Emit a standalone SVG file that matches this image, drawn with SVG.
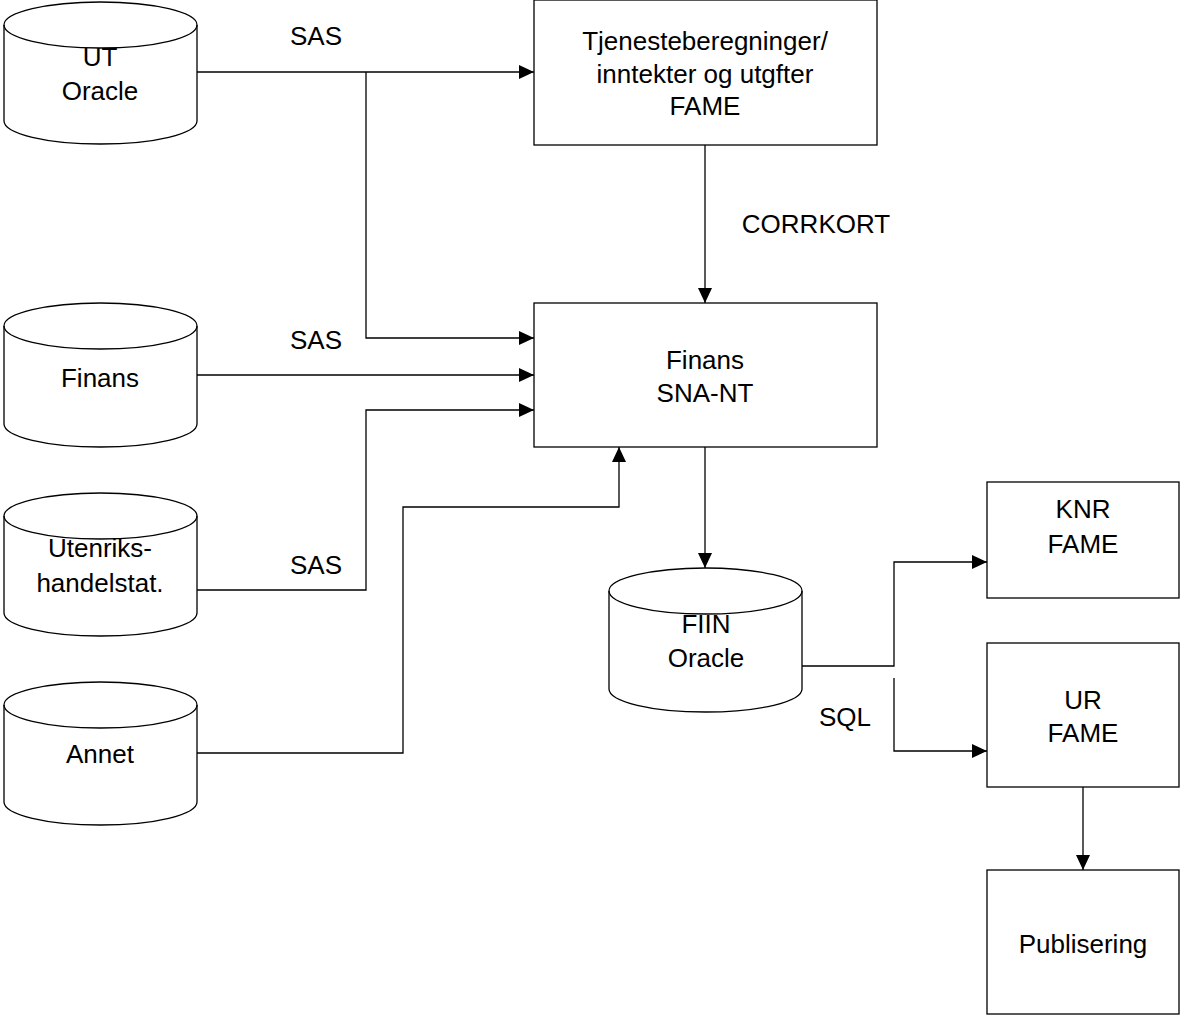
<svg xmlns="http://www.w3.org/2000/svg" width="1181" height="1015" viewBox="0 0 1181 1015">
<defs>
<marker id="arr" markerUnits="userSpaceOnUse" markerWidth="16" markerHeight="16" refX="15" refY="7" orient="auto">
<path d="M0,0 L15,7 L0,14 Z" fill="#000"/>
</marker>
<style>
.box{fill:#fff;stroke:#000;stroke-width:1.3}
.cyl{fill:#fff;stroke:#000;stroke-width:1.3}
.ln{fill:none;stroke:#000;stroke-width:1.3}
.t{font-family:"Liberation Sans",Arial,sans-serif;font-size:26px;fill:#000;text-anchor:middle}
</style>
</defs>
<rect width="1181" height="1015" fill="#fff"/>

<g id="connectors">
<path class="ln" d="M197,72 H534" marker-end="url(#arr)"/>
<path class="ln" d="M366,72 V338 H534" marker-end="url(#arr)"/>
<path class="ln" d="M197,375 H534" marker-end="url(#arr)"/>
<path class="ln" d="M197,590 H366 V410 H534" marker-end="url(#arr)"/>
<path class="ln" d="M197,753 H403 V507 H619 V447" marker-end="url(#arr)"/>
<path class="ln" d="M705,145 V303" marker-end="url(#arr)"/>
<path class="ln" d="M705,447 V568" marker-end="url(#arr)"/>
<path class="ln" d="M802,666 H894 V562 H987" marker-end="url(#arr)"/>
<path class="ln" d="M894,678 V751 H987" marker-end="url(#arr)"/>
<path class="ln" d="M1083,787 V870" marker-end="url(#arr)"/>
<text class="t" x="316" y="45">SAS</text>
<text class="t" x="316" y="349">SAS</text>
<text class="t" x="316" y="574">SAS</text>
<text class="t" x="816" y="233">CORRKORT</text>
<text class="t" x="845" y="726">SQL</text>
</g>

<g id="ut-oracle">
<path class="cyl" d="M4,25 A96.5,23 0 0 1 197,25 V121 A96.5,23 0 0 1 4,121 Z"/>
<path class="ln" d="M4,25 A96.5,23 0 0 0 197,25"/>
<text class="t" x="100" y="66">UT</text>
<text class="t" x="100" y="100">Oracle</text>
</g>

<g id="finans-db">
<path class="cyl" d="M4,326 A96.5,23 0 0 1 197,326 V424 A96.5,23 0 0 1 4,424 Z"/>
<path class="ln" d="M4,326 A96.5,23 0 0 0 197,326"/>
<text class="t" x="100" y="387">Finans</text>
</g>

<g id="utenriks">
<path class="cyl" d="M4,516 A96.5,23 0 0 1 197,516 V613 A96.5,23 0 0 1 4,613 Z"/>
<path class="ln" d="M4,516 A96.5,23 0 0 0 197,516"/>
<text class="t" x="100" y="557">Utenriks-</text>
<text class="t" x="100" y="592">handelstat.</text>
</g>

<g id="annet">
<path class="cyl" d="M4,705 A96.5,23 0 0 1 197,705 V802 A96.5,23 0 0 1 4,802 Z"/>
<path class="ln" d="M4,705 A96.5,23 0 0 0 197,705"/>
<text class="t" x="100" y="763">Annet</text>
</g>

<g id="tjeneste">
<rect class="box" x="534" y="0" width="343" height="145"/>
<text class="t" x="705" y="50">Tjenesteberegninger/</text>
<text class="t" x="705" y="83">inntekter og utgfter</text>
<text class="t" x="705" y="115">FAME</text>
</g>

<g id="finans-sna">
<rect class="box" x="534" y="303" width="343" height="144"/>
<text class="t" x="705" y="369">Finans</text>
<text class="t" x="705" y="402">SNA-NT</text>
</g>

<g id="fiin">
<path class="cyl" d="M609,591 A96.5,23 0 0 1 802,591 V689 A96.5,23 0 0 1 609,689 Z"/>
<path class="ln" d="M609,591 A96.5,23 0 0 0 802,591"/>
<text class="t" x="706" y="633">FIIN</text>
<text class="t" x="706" y="667">Oracle</text>
</g>

<g id="knr">
<rect class="box" x="987" y="482" width="192" height="116"/>
<text class="t" x="1083" y="518">KNR</text>
<text class="t" x="1083" y="553">FAME</text>
</g>

<g id="ur">
<rect class="box" x="987" y="643" width="192" height="144"/>
<text class="t" x="1083" y="709">UR</text>
<text class="t" x="1083" y="742">FAME</text>
</g>

<g id="publisering">
<rect class="box" x="987" y="870" width="192" height="144"/>
<text class="t" x="1083" y="953">Publisering</text>
</g>
</svg>
